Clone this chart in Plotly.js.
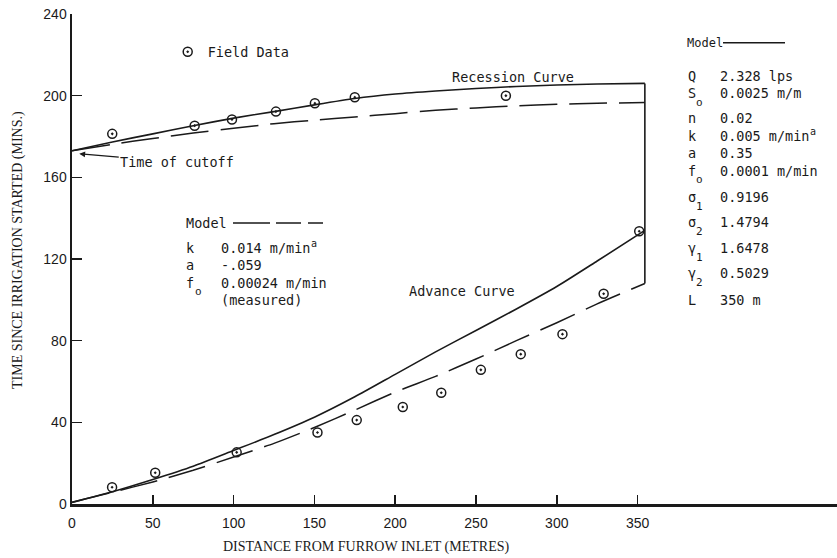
<!DOCTYPE html>
<html>
<head>
<meta charset="utf-8">
<script src="https://cdn.plot.ly/plotly-3.0.1.min.js"></script>
<style>html,body{margin:0;padding:0;background:#fff;}#chart{width:837px;height:558px;}</style>
</head>
<body>
<div id="chart"></div>
<script>
// ---- data ----
const distance = [0, 25, 50, 75, 100, 125, 150, 175, 200, 225, 250, 275, 300, 325, 354.5];
const recessionModel = [173, 177.3, 181.3, 185.3, 189, 192.2, 195.5, 198.6, 200.8, 202.3, 203.5, 204.5, 205.2, 205.7, 206];
const recessionFitted = [173, 176.2, 179, 181.7, 184, 186.3, 188, 189.6, 191.2, 192.8, 194, 195, 195.8, 196.3, 196.6];
const advanceModel = [0.8, 6, 12, 18.5, 26.2, 34, 42.5, 52.5, 63.5, 74.5, 85, 95.5, 106.5, 119, 134];
const advanceFitted = [0.8, 5.8, 10.8, 16.5, 23, 29.7, 37.5, 46, 54.8, 62.5, 71, 80, 88.8, 98, 108];
const cutoffX = [354.5, 354.5];
const cutoffY = [206, 108];
const recessionFieldX = [24.9, 75.9, 99, 126.2, 150.3, 175, 268.5];
const recessionFieldY = [181.3, 185.3, 188.3, 192.2, 196.3, 199.2, 200];
const advanceFieldX = [24.8, 51.5, 101.9, 151.9, 176.2, 204.7, 228.5, 253, 277.7, 303.5, 329, 351];
const advanceFieldY = [8.2, 15.3, 25.3, 35, 41.1, 47.5, 54.5, 65.7, 73.4, 83.2, 103, 133.6];
const xTicks = [0, 50, 100, 150, 200, 250, 300, 350];
const yTicks = [0, 40, 80, 120, 160, 200, 240];
// [symbol, subscript, value, superscript]
const rightParams = [
  ["Q", "", "2.328 lps", ""], ["S", "o", "0.0025 m/m", ""], ["n", "", "0.02", ""],
  ["k", "", "0.005 m/min", "a"], ["a", "", "0.35", ""], ["f", "o", "0.0001 m/min", ""],
  ["σ", "1", "0.9196", ""], ["σ", "2", "1.4794", ""], ["γ", "1", "1.6478", ""],
  ["γ", "2", "0.5029", ""], ["L", "", "350 m", ""]
];
const leftParams = [["k", "", "0.014 m/min", "a"], ["a", "", "-.059", ""], ["f", "o", "0.00024 m/min", ""], ["", "", "(measured)", ""]];

// ---- layout helpers (pixel -> paper) ----
const L = 72, T = 14, W = 765, H = 490;
const px = x => (x - L) / W;
const py = y => (T + H - y) / H;
const ink = '#1a1a1a';
const mono = {family: 'DejaVu Sans Mono, monospace', size: 13.5, color: ink};
const small = {family: 'DejaVu Sans Mono, monospace', size: 11, color: ink};
const tiny = {family: 'DejaVu Sans Mono, monospace', size: 10, color: ink};
const CH = 13.5 * 0.602; // monospace advance

const ann = [];
function txt(x, y, t, opts) {
  ann.push(Object.assign({xref: 'paper', yref: 'paper', x: px(x), y: py(y), text: t,
    showarrow: false, xanchor: 'left', yanchor: 'middle', font: mono, borderpad: 0}, opts || {}));
}
function block(rows, x0, x1, ys) {
  rows.forEach((r, i) => {
    const y = ys[i];
    if (r[0]) txt(x0, y, r[0]);
    if (r[1]) txt(x0 + CH + 0.6, y + 9, r[1], {font: small});
    txt(x1, y, r[2]);
    if (r[3]) txt(x1 + r[2].length * CH + 0.8, y - 5, r[3], {font: tiny});
  });
}
block(rightParams, 686.5, 719.3, [76, 93, 118, 136, 153, 171, 197, 222, 248, 273, 300]);
txt(685.5, 42.7, "Model", {font: Object.assign({}, mono, {size: 12})});
txt(185, 223, "Model");
block(leftParams, 185, 220, [248, 265, 283, 300]);
// curve labels
txt(451, 76.7, "Recession Curve");
txt(408.3, 290.7, "Advance Curve");
// time of cutoff with arrow
ann.push({xref: 'x', yref: 'y', x: 4.5, y: 171.5, text: "Time of cutoff", showarrow: true,
  arrowhead: 2, arrowsize: 0.9, arrowwidth: 1.3, arrowcolor: ink, ax: 98, ay: 8,
  font: mono, standoff: 0});
// axis titles
ann.push({xref: 'paper', yref: 'paper', x: px(366.4), y: py(547), text: "DISTANCE FROM FURROW INLET (METRES)",
  showarrow: false, xanchor: 'center', yanchor: 'middle',
  font: {family: 'Liberation Serif, Times New Roman, serif', size: 14, color: ink}});
ann.push({xref: 'paper', yref: 'paper', x: px(18), y: py(250), text: "TIME SINCE IRRIGATION STARTED (MINS.)",
  showarrow: false, xanchor: 'center', yanchor: 'middle', textangle: -90,
  font: {family: 'Liberation Serif, Times New Roman, serif', size: 14, color: ink}});

const shapes = [
  {type: 'line', xref: 'paper', yref: 'paper', x0: px(723), x1: px(785), y0: py(42.7), y1: py(42.7),
   line: {color: ink, width: 1.4}},
  {type: 'line', xref: 'paper', yref: 'paper', x0: px(233), x1: px(323), y0: py(223), y1: py(223),
   line: {color: ink, width: 1.4, dash: '37px,6px,25px,7px,15px,60px'}}
];

const solid = {color: ink, width: 1.6};
const dashed = {color: ink, width: 1.5, dash: '38px,12px'};
const sp = {shape: 'spline', smoothing: 0.6};
const traces = [
  {x: distance, y: recessionModel, mode: 'lines', line: Object.assign({}, sp, solid), showlegend: false, hoverinfo: 'skip'},
  {x: distance, y: recessionFitted, mode: 'lines', line: Object.assign({}, sp, dashed), showlegend: false, hoverinfo: 'skip'},
  {x: distance, y: advanceModel, mode: 'lines', line: Object.assign({}, sp, solid), showlegend: false, hoverinfo: 'skip'},
  {x: distance, y: advanceFitted, mode: 'lines', line: Object.assign({}, sp, dashed), showlegend: false, hoverinfo: 'skip'},
  {x: cutoffX, y: cutoffY, mode: 'lines', line: solid, showlegend: false, hoverinfo: 'skip'},
  {x: recessionFieldX.concat(advanceFieldX), y: recessionFieldY.concat(advanceFieldY), mode: 'markers',
   name: 'Field Data', marker: {symbol: 'circle-open-dot', size: 9, color: ink, line: {width: 1.5, color: ink}}}
];

const axisCommon = {showgrid: false, zeroline: false, showline: true, linecolor: ink, linewidth: 2.5,
  ticks: 'inside', tickcolor: ink, tickwidth: 1.5, fixedrange: true,
  tickfont: {family: 'Liberation Sans, Arial, sans-serif', size: 14, color: ink}};

const layout = {
  width: 837, height: 558, margin: {l: L, r: 0, t: T, b: 558 - T - H},
  paper_bgcolor: '#fff', plot_bgcolor: '#fff',
  xaxis: Object.assign({}, axisCommon, {range: [0, 473.4], tickvals: xTicks, ticktext: xTicks.map(String), ticklen: 9, ticklabelstandoff: 5}),
  yaxis: Object.assign({}, axisCommon, {range: [0, 240], tickvals: yTicks, ticktext: yTicks.map(String), ticklen: 10}),
  showlegend: true,
  legend: {x: px(167.7), y: py(52), xanchor: 'left', yanchor: 'middle', bgcolor: 'rgba(0,0,0,0)',
    font: mono, borderwidth: 0},
  annotations: ann, shapes: shapes
};
Plotly.newPlot('chart', traces, layout, {displayModeBar: false, staticPlot: true});
</script>
</body>
</html>
